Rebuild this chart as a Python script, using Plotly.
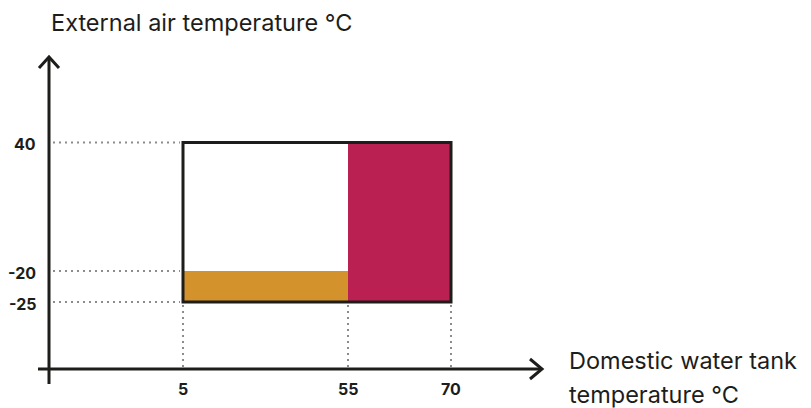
import numpy as np
import plotly.graph_objects as go

# ---- data ----
water_ticks = [5, 55, 70]          # Domestic water tank temperature °C
air_ticks = [40, -20, -25]         # External air temperature °C
zone_orange_x = [5, 55]
zone_orange_y = [-25, -20]
zone_crimson_x = [55, 70]
zone_crimson_y = [-25, 40]
envelope_x = [5, 70]
envelope_y = [-25, 40]
x_title_lines = ["Domestic water tank", "temperature °C"]
y_title = "External air temperature °C"

# ---- schematic layout (non-linear diagram scale, in page units) ----
W, H = 811, 408
x_origin, y_origin = 49, 369
x_arrow_tip, y_arrow_tip = 542, 57
x_tick_pos = [183, 348, 451]
y_tick_pos = [142.5, 271, 302]

xs_sorted = np.argsort(water_ticks)
ys_sorted = np.argsort(air_ticks)


def X(v):
    return float(np.interp(v, np.array(water_ticks)[xs_sorted], np.array(x_tick_pos)[xs_sorted]))


def Y(v):
    return float(np.interp(v, np.array(air_ticks)[ys_sorted], np.array(y_tick_pos)[ys_sorted]))


BLACK = "#1d1d1b"
ORANGE = "#d3922b"
CRIMSON = "#ba2152"
GRAY = "#8c8c8c"
FONT = "Inter"

shapes = []
# dotted guides
for v in air_ticks:
    shapes.append(dict(type="line", x0=53, x1=X(min(envelope_x)) - 3, y0=Y(v), y1=Y(v),
                       line=dict(color=GRAY, width=2, dash="2px,4px")))
for v in water_ticks:
    shapes.append(dict(type="line", x0=X(v), x1=X(v), y0=Y(min(envelope_y)) + 3, y1=y_origin - 2,
                       line=dict(color=GRAY, width=2, dash="2px,4px")))
# zones
shapes.append(dict(type="rect", x0=X(zone_orange_x[0]), x1=X(zone_orange_x[1]),
                   y0=Y(zone_orange_y[0]), y1=Y(zone_orange_y[1]),
                   fillcolor=ORANGE, line=dict(width=0)))
shapes.append(dict(type="rect", x0=X(zone_crimson_x[0]), x1=X(zone_crimson_x[1]),
                   y0=Y(zone_crimson_y[0]), y1=Y(zone_crimson_y[1]),
                   fillcolor=CRIMSON, line=dict(width=0)))
# envelope
shapes.append(dict(type="rect", x0=X(envelope_x[0]), x1=X(envelope_x[1]),
                   y0=Y(envelope_y[0]), y1=Y(envelope_y[1]),
                   fillcolor="rgba(0,0,0,0)", line=dict(color=BLACK, width=3)))
# axes
shapes.append(dict(type="line", x0=x_origin, x1=x_origin, y0=384, y1=y_arrow_tip + 1,
                   line=dict(color=BLACK, width=3)))
shapes.append(dict(type="line", x0=38, x1=x_arrow_tip - 1, y0=y_origin, y1=y_origin,
                   line=dict(color=BLACK, width=3)))
# arrow heads (open chevrons)
shapes.append(dict(type="path",
                   path=f"M {x_origin-10},{y_arrow_tip+11} L {x_origin},{y_arrow_tip} L {x_origin+10},{y_arrow_tip+11}",
                   line=dict(color=BLACK, width=3)))
shapes.append(dict(type="path",
                   path=f"M {x_arrow_tip-12},{y_origin-10} L {x_arrow_tip},{y_origin} L {x_arrow_tip-12},{y_origin+10}",
                   line=dict(color=BLACK, width=3)))

annotations = []
for v in air_ticks:
    annotations.append(dict(x=38, y=Y(v) + 1.5, xref="x", yref="y", text=f"<b>{v}</b>", showarrow=False,
                            xanchor="right", yanchor="middle",
                            font=dict(family=FONT, size=16, color=BLACK)))
for v in water_ticks:
    annotations.append(dict(x=X(v), y=389, xref="x", yref="y", text=f"<b>{v}</b>", showarrow=False,
                            xanchor="center", yanchor="middle",
                            font=dict(family=FONT, size=16, color=BLACK)))
annotations.append(dict(x=49, y=22, xref="x", yref="y", text=y_title, showarrow=False,
                        xanchor="left", yanchor="middle",
                        font=dict(family=FONT, size=23.5, color=BLACK)))
for i, line in enumerate(x_title_lines):
    annotations.append(dict(x=567, y=360 + 34 * i, xref="x", yref="y", text=line, showarrow=False,
                            xanchor="left", yanchor="middle", align="left",
                            font=dict(family=FONT, size=23.5, color=BLACK)))

fig = go.Figure()
fig.add_trace(go.Scatter(x=[0, W], y=[0, H], mode="markers", marker=dict(opacity=0),
                         hoverinfo="skip", showlegend=False))
fig.update_layout(
    width=W, height=H,
    margin=dict(l=0, r=0, t=0, b=0, pad=0),
    paper_bgcolor="white", plot_bgcolor="white",
    xaxis=dict(range=[0, W], visible=False, fixedrange=True),
    yaxis=dict(range=[H, 0], visible=False, fixedrange=True),
    shapes=shapes, annotations=annotations, showlegend=False,
)
fig.write_html("out.html", config={"displayModeBar": False},
               post_script="document.body.style.margin='0';document.body.style.overflow='hidden';")
